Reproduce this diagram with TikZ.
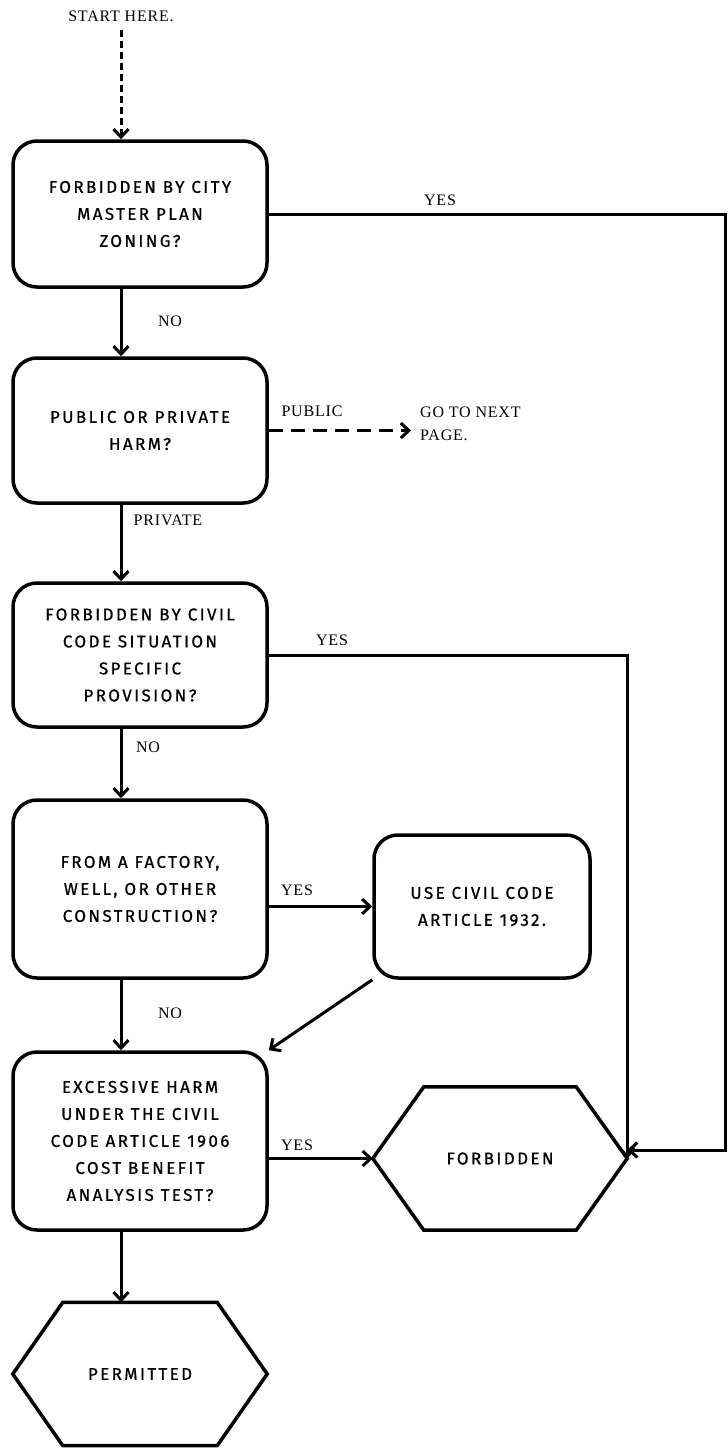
\documentclass[tikz,border=0pt]{standalone}
\usepackage{fontspec}
\setmainfont{Liberation Serif}
\newfontfamily\boxfont[LetterSpace=14,FakeBold=0.8]{Fira Sans}
\newfontfamily\lblfont[LetterSpace=5]{Liberation Serif}
\usetikzlibrary{arrows.meta,calc}
\begin{document}
\begin{tikzpicture}[x=1pt,y=-1pt,
  box/.style={draw, line width=3.5pt, rounded corners=24pt, fill=white,
    minimum width=254pt, align=center, inner sep=0pt,
    font=\boxfont\fontsize{17}{27}\selectfont},
  hexbox/.style={minimum width=254pt, minimum height=143pt, inner sep=0pt,
    font=\boxfont\fontsize{17}{27}\selectfont},
  hexline/.style={line width=3.5pt, line join=miter},
  lbl/.style={font=\lblfont\fontsize{16}{23}\selectfont, inner sep=2pt},
  conn/.style={line width=3pt, -{Straight Barb[length=8pt,width=15pt,line width=3pt]}},
  dashconn/.style={conn, dash pattern=on 14pt off 8pt},
  startconn/.style={conn, dash pattern=on 7pt off 4pt},
]
\useasboundingbox (0,0) rectangle (728,1448);

% column of the main vertical connectors
\coordinate (colx) at (121,0);

% decision boxes
\node[box, minimum height=146pt] (box1) at (140,214) {FORBIDDEN BY CITY\\MASTER PLAN\\ZONING?};
\node[box, minimum height=145pt] (box2) at (140,430.5) {PUBLIC OR PRIVATE\\HARM?};
\node[box, minimum height=144pt] (box3) at (140,655) {FORBIDDEN BY CIVIL\\CODE SITUATION\\SPECIFIC\\PROVISION?};
\node[box, minimum height=178pt] (box4) at (140,889) {FROM A FACTORY,\\WELL, OR OTHER\\CONSTRUCTION?};
\node[box, minimum width=216pt, minimum height=143pt] (box5) at (482,906.5) {USE CIVIL CODE\\ARTICLE 1932.};
\node[box, minimum height=178pt] (box6) at (140,1141) {EXCESSIVE HARM\\UNDER THE CIVIL\\CODE ARTICLE 1906\\COST BENEFIT\\ANALYSIS TEST?};

% outcome hexagons
\node[hexbox] (forb) at (500,1158.5) {FORBIDDEN};
\draw[hexline] (forb.west) -- ($(forb.north west)+(51,0)$) -- ($(forb.north east)+(-51,0)$)
  -- (forb.east) -- ($(forb.south east)+(-51,0)$) -- ($(forb.south west)+(51,0)$) -- cycle;
\node[hexbox] (perm) at (140,1374) {PERMITTED};
\draw[hexline] (perm.west) -- ($(perm.north west)+(50,0)$) -- ($(perm.north east)+(-50,0)$)
  -- (perm.east) -- ($(perm.south east)+(-50,0)$) -- ($(perm.south west)+(50,0)$) -- cycle;

% free texts
\node[lbl] (start) at (121,16) {START HERE.};
\node[lbl, anchor=west, align=left] (next) at (418,424) {GO TO NEXT\\PAGE.};

% connectors
\draw[startconn] ($(start.south)+(0,6)$) -- (box1.north -| start);
\draw[conn] (box1.south -| colx) -- (box2.north -| colx);
\draw[dashconn] (box2.east) -- ($(box2.east -| next.west)+(-7,0)$);
\draw[conn] (box2.south -| colx) -- (box3.north -| colx);
\draw[conn] (box3.south -| colx) -- (box4.north -| colx);
\draw[conn] (box4.east |- box5.west) -- (box5.west);
\draw[conn] (box5.south west) -- (box6.north east);
\draw[conn] (box4.south -| colx) -- (box6.north -| colx);
\draw[conn] (box6.east |- forb.west) -- (forb.west);
\draw[conn] (box6.south -| colx) -- (perm.north -| colx);

\coordinate (c3) at (forb.east |- box3.east);
\draw[conn] (box3.east) -- (c3) -- (forb.east);

\coordinate (rt) at (725.5,214);
\coordinate (rb) at (725.5,1150);
\draw[conn] (box1.east) -- (rt) -- (rb) -- (forb.east |- rb);

% connector labels
\node[lbl] at (440,200) {YES};
\node[lbl] at (170,321) {NO};
\node[lbl] at (312,411) {PUBLIC};
\node[lbl] at (168,520) {PRIVATE};
\node[lbl] at (332,640) {YES};
\node[lbl] at (148,747) {NO};
\node[lbl] at (297,890) {YES};
\node[lbl] at (170,1013) {NO};
\node[lbl] at (297,1145) {YES};
\end{tikzpicture}
\end{document}
